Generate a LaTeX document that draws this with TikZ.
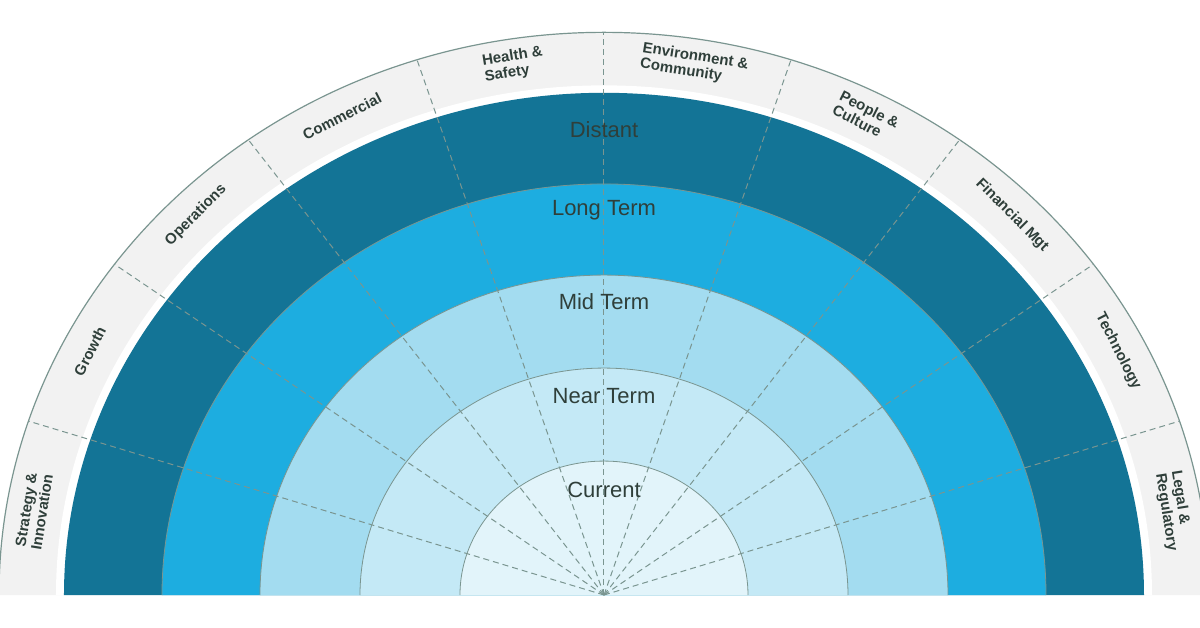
\documentclass[tikz,border=0pt]{standalone}
\usepackage{fontspec}
\setmainfont{Liberation Sans}
\definecolor{cdist}{RGB}{19, 116, 150}
\definecolor{clong}{RGB}{29, 173, 224}
\definecolor{cmid}{RGB}{163, 220, 240}
\definecolor{cnear}{RGB}{196, 233, 246}
\definecolor{ccur}{RGB}{226, 244, 250}
\definecolor{cband}{RGB}{242, 242, 242}
\definecolor{cedge}{RGB}{122, 149, 144}
\definecolor{ctext}{RGB}{47, 63, 58}
\tikzset{
  band/.style={font=\bfseries\fontsize{15}{16}\selectfont, text=ctext, align=center, inner sep=0pt},
  term/.style={font=\fontsize{22}{24}\selectfont, text=ctext, inner sep=0pt},
  divider/.style={dashed, line width=1pt, color=cedge, dash pattern=on 6pt off 4pt}
}
\newcommand{\halfring}[2]{\fill[#2] (-#1,0) arc[start angle=180, end angle=0, x radius=#1, y radius=0.93*#1] -- cycle;}
\begin{document}
\begin{tikzpicture}[x=1pt, y=1pt]
\useasboundingbox (-604,-32) rectangle (596,595);
\halfring{605}{cband}
\draw[line width=1.2pt, color=cedge] (-605,0) arc[start angle=180, end angle=0, x radius=605, y radius=562.65];
\halfring{548}{white}
\halfring{540}{cdist}
\halfring{442}{clong}
\halfring{344}{cmid}
\halfring{244}{cnear}
\halfring{144}{ccur}
\foreach \r in {442,344,244,144}
  \draw[line width=0.8pt, color=cedge] (-\r,0) arc[start angle=180, end angle=0, x radius=\r, y radius=0.93*\r];
\foreach \a in {18,36,...,162}
  \draw[divider] (0,0) -- ({605*cos(\a)},{562.65*sin(\a)});
\node (cur) [term] at (0,105) {Current};
\node (near) [term] at (0,199) {Near Term};
\node (mid) [term] at (0,293) {Mid Term};
\node (long) [term] at (0,385) {Long Term};
\node (dist) [term] at (0,465) {Distant};
\node (b1) [band, rotate=81] at ({577*cos(171)},{537*sin(171)}) {Strategy \&\\Innovation};
\node (b2) [band, rotate=63] at ({577*cos(153)},{537*sin(153)}) {Growth};
\node (b3) [band, rotate=45] at ({577*cos(135)},{537*sin(135)}) {Operations};
\node (b4) [band, rotate=27] at ({577*cos(117)},{537*sin(117)}) {Commercial};
\node (b5) [band, rotate=9, align=left] at ({577*cos(99)},{537*sin(99)}) {Health \&\\Safety};
\node (b6) [band, rotate=-9, align=left] at ({577*cos(81)},{537*sin(81)}) {Environment \&\\Community};
\node (b7) [band, rotate=-27, align=left] at ({577*cos(63)},{537*sin(63)}) {People \&\\Culture};
\node (b8) [band, rotate=-45] at ({577*cos(45)},{537*sin(45)}) {Financial Mgt};
\node (b9) [band, rotate=-63] at ({577*cos(27)},{537*sin(27)}) {Technology};
\node (b10) [band, rotate=-81, align=left] at ({577*cos(9)},{537*sin(9)}) {Legal \&\\Regulatory};
\end{tikzpicture}
\end{document}
